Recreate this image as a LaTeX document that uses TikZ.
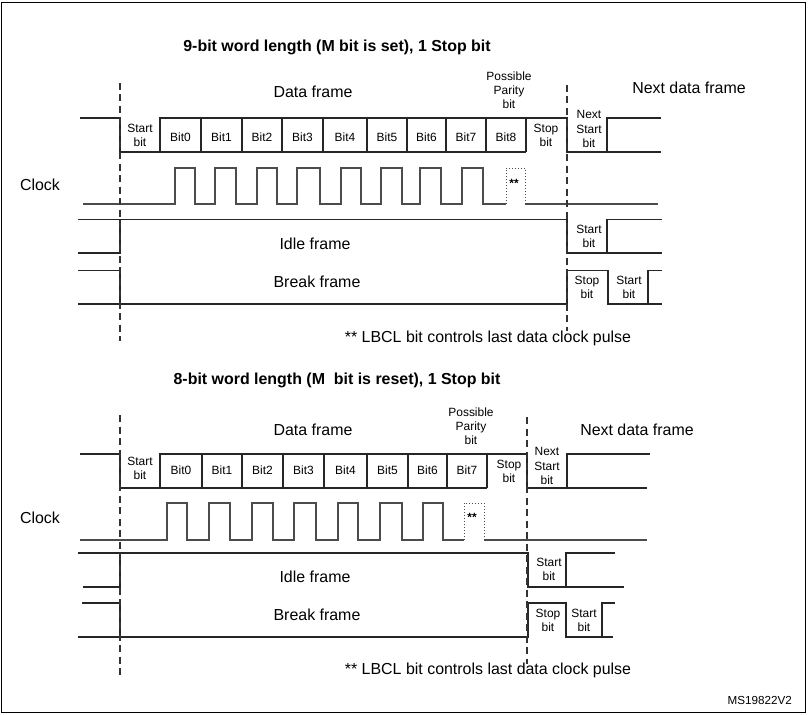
\documentclass[tikz,border=0pt]{standalone}
\usepackage{fontspec}
\setmainfont{Liberation Sans}
\begin{document}
\begin{tikzpicture}[x=1bp,y=-1bp,
  wave/.style={line width=1.25bp, black!85, line join=miter},
  clk/.style={line width=1.2bp, black!70},
  dotclk/.style={line width=1bp, black!70, dotted},
  vdash/.style={line width=1.25bp, black!80, dash pattern=on 7bp off 4.5bp},
  lbl/.style={font=\fontsize{16}{18}\selectfont, inner sep=0pt},
  sm/.style={font=\fontsize{12}{14.2}\selectfont, align=center, inner sep=0pt},
  ttl/.style={font=\bfseries\fontsize{16}{18}\selectfont, inner sep=0pt},
  star/.style={font=\bfseries\fontsize{12}{12}\selectfont, inner sep=0pt}]
\useasboundingbox (0,0) rectangle (808,715);
\draw[line width=1.3bp] (1.5,2.5) rectangle (805.5,712.5);

% ================= TOP DIAGRAM =================
\node[ttl] (t1) at (337,47) {9-bit word length (M bit is set), 1 Stop bit};
\node[lbl] (df1) at (313,92) {Data frame};
\node[sm] (pp1) at (509,90) {Possible\\Parity\\bit};
\node[lbl] (nd1) at (689,88) {Next data frame};
% data row
\draw[wave] (80,118) -- (120,118) -- (120,152) -- (526,152);
\draw[wave] (160,152) -- (160,118) -- (567,118) -- (567,152) -- (661,152);
\draw[wave] (607,152) -- (607,118) -- (661,118);
\foreach \x in {201,242,282,323,367,407,446,486,526}
  \draw[wave] (\x,118) -- (\x,152);
\node[sm] (sb1) at (140,135) {Start\\bit};
\foreach \c/\t [count=\i] in {180.5/Bit0,221.5/Bit1,262/Bit2,302.5/Bit3,345/Bit4,387/Bit5,426.5/Bit6,466/Bit7,506/Bit8}
  \node[sm] (b1\i) at (\c,137) {\t};
\node[sm] (stp1) at (546,135) {Stop\\bit};
\node[sm] (nsb1) at (589,129) {Next\\Start\\bit};
% clock
\node[lbl] (ck1) at (40,185) {Clock};
\draw[clk] (83,204) -- (175,204)
  -- (175,168) -- (195,168) -- (195,204) -- (215,204)
  -- (215,168) -- (236,168) -- (236,204) -- (257,204)
  -- (257,168) -- (277,168) -- (277,204) -- (297,204)
  -- (297,168) -- (320,168) -- (320,204) -- (341,204)
  -- (341,168) -- (361,168) -- (361,204) -- (381,204)
  -- (381,168) -- (402,168) -- (402,204) -- (420,204)
  -- (420,168) -- (441,168) -- (441,204) -- (462,204)
  -- (462,168) -- (483,168) -- (483,204) -- (506,204);
\draw[dotclk] (506,204) -- (506,168) -- (525,168) -- (525,204);
\draw[clk] (525,204) -- (658,204);
\node[star] (as1) at (514,183) {**};
% idle row
\draw[wave] (78,219.5) -- (567,219.5) -- (567,253) -- (662,253);
\draw[wave] (78,253) -- (120,253) -- (120,219.5);
\draw[wave] (607,253) -- (607,219.5) -- (662,219.5);
\node[lbl] (if1) at (315,244) {Idle frame};
\node[sm] (is1) at (589,236) {Start\\bit};
% break row
\draw[wave] (78,270.5) -- (120,270.5) -- (120,304);
\draw[wave] (78,304) -- (567,304) -- (567,270.5) -- (608,270.5) -- (608,304) -- (662,304);
\draw[wave] (648,304) -- (648,270.5) -- (662,270.5);
\node[lbl] (bf1) at (317,282) {Break frame};
\node[sm] (bs1) at (587,287) {Stop\\bit};
\node[sm] (bt1) at (629,287) {Start\\bit};
% dashed
\draw[vdash] (120,83) -- (120,341);
\draw[vdash] (567,85) -- (567,331);
\node[lbl] (lb1) at (488,338) {** LBCL bit controls last data clock pulse};

% ================= BOTTOM DIAGRAM =================
\node[ttl] (t2) at (337,380) {8-bit word length (M\ \ bit is reset), 1 Stop bit};
\node[lbl] (df2) at (313,430) {Data frame};
\node[sm] (pp2) at (471,426) {Possible\\Parity\\bit};
\node[lbl] (nd2) at (637,430) {Next data frame};
% data row
\draw[wave] (80,454) -- (120,454) -- (120,488) -- (487,488);
\draw[wave] (160,488) -- (160,454) -- (527,454) -- (527,488) -- (647,488);
\draw[wave] (567,488) -- (567,454) -- (650,454);
\foreach \x in {202,242,283,324,367,408,447,487}
  \draw[wave] (\x,454) -- (\x,488);
\node[sm] (sb2) at (140,468) {Start\\bit};
\foreach \c/\t [count=\i] in {181/Bit0,222/Bit1,262.5/Bit2,303.5/Bit3,345.5/Bit4,387.5/Bit5,427.5/Bit6,467/Bit7}
  \node[sm] (b2\i) at (\c,470) {\t};
\node[sm] (stp2) at (509,471) {Stop\\bit};
\node[sm] (nsb2) at (547,466) {Next\\Start\\bit};
% clock
\node[lbl] (ck2) at (40,518) {Clock};
\draw[clk] (80,540) -- (167,540)
  -- (167,503) -- (187,503) -- (187,540) -- (209,540)
  -- (209,503) -- (230,503) -- (230,540) -- (252,540)
  -- (252,503) -- (273,503) -- (273,540) -- (294,540)
  -- (294,503) -- (316,503) -- (316,540) -- (338,540)
  -- (338,503) -- (358,503) -- (358,540) -- (380,540)
  -- (380,503) -- (402,503) -- (402,540) -- (423,540)
  -- (423,503) -- (443,503) -- (443,540) -- (464,540);
\draw[dotclk] (464,540) -- (464,503) -- (484,503) -- (484,540);
\draw[clk] (484,540) -- (647,540);
\node[star] (as2) at (472,517) {**};
% idle row
\draw[wave] (78,553) -- (528,553) -- (528,587) -- (624,587);
\draw[wave] (83,587) -- (120,587) -- (120,553);
\draw[wave] (566,587) -- (566,553) -- (615,553);
\node[lbl] (if2) at (315,577) {Idle frame};
\node[sm] (is2) at (549,569) {Start\\bit};
% break row
\draw[wave] (82,603) -- (120,603) -- (120,637);
\draw[wave] (78,637) -- (528,637) -- (528,603) -- (566,603) -- (566,637) -- (613,637);
\draw[wave] (602,637) -- (602,603) -- (615,603);
\node[lbl] (bf2) at (317,615) {Break frame};
\node[sm] (bs2) at (548,620) {Stop\\bit};
\node[sm] (bt2) at (584,620) {Start\\bit};
% dashed
\draw[vdash] (120,415) -- (120,676);
\draw[vdash] (527,417) -- (527,664);
\node[lbl] (lb2) at (488,670) {** LBCL bit controls last data clock pulse};
\node[font=\fontsize{11.7}{13}\selectfont, inner sep=0pt, anchor=east] (ms) at (792,700) {MS19822V2};
\end{tikzpicture}
\end{document}
